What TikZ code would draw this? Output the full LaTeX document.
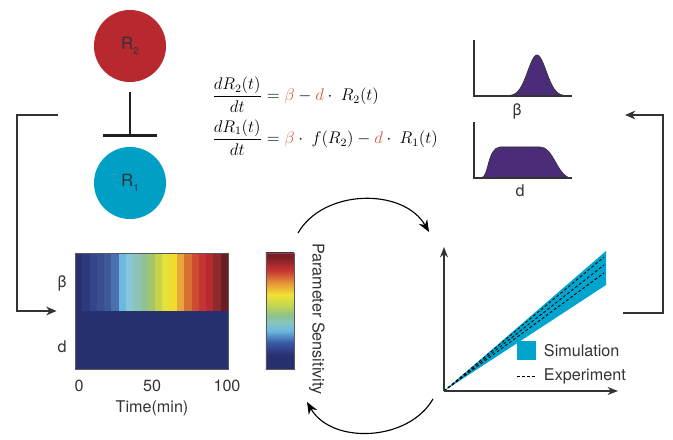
\documentclass[tikz,border=0pt]{standalone}
\usepackage{amsmath}
\usepackage{fontspec}
\setmainfont{TeX Gyre Heros}
\usetikzlibrary{positioning,shapes,arrows.meta}
\definecolor{rtwo}{HTML}{B8282F}
\definecolor{rone}{HTML}{00A0C6}
\definecolor{dpurple}{HTML}{4A2C78}
\definecolor{simblue}{HTML}{00A4CC}
\definecolor{parred}{HTML}{D05A40}
\definecolor{ink}{HTML}{333333}
\definecolor{jnavy}{HTML}{283070}
\definecolor{jblue}{HTML}{3A5AA8}
\definecolor{jlblue}{HTML}{6CB8DE}
\definecolor{jteal}{HTML}{88C4C0}
\definecolor{jgreen}{HTML}{8CC28C}
\definecolor{jygreen}{HTML}{C4D650}
\definecolor{jyellow}{HTML}{F0E234}
\definecolor{jorange}{HTML}{E8963A}
\definecolor{jred}{HTML}{C63432}
\definecolor{jdred}{HTML}{7A1E26}
\pgfdeclareverticalshading{jet}{100bp}{color(0bp)=(jnavy); color(25bp)=(jnavy); color(31bp)=(jnavy);
  color(36.5bp)=(jblue); color(41.5bp)=(jlblue); color(45bp)=(jteal); color(48bp)=(jgreen);
  color(52.5bp)=(jygreen); color(57bp)=(jyellow); color(62bp)=(jorange); color(67.5bp)=(jred);
  color(73.5bp)=(jdred); color(100bp)=(jdred)}
\tikzstyle{species} = [circle, minimum size=1.8cm, text=ink, font=\fontsize{12}{14}\selectfont]
\tikzstyle{inhibit} = [line width=1.7pt, draw=ink!60!black, -{Bar[width=1.33cm,line width=1.7pt]}, shorten <=0.25cm, shorten >=0.25cm]
\tikzstyle{connect} = [line width=0.8pt, draw=ink, -{Stealth[length=2.6mm,width=2.2mm]}]
\tikzstyle{turn} = [line width=0.8pt, draw=black, -{Stealth[length=3mm,width=2.4mm]}]
\tikzstyle{plotaxis} = [line width=0.8pt, draw=ink, -{Stealth[length=2.6mm,width=2mm]}]
\tikzstyle{distaxis} = [line width=0.8pt, draw=ink]
\tikzstyle{dist} = [fill=dpurple, draw=black!80, line width=0.5pt]
\tikzstyle{lbl} = [text=ink, font=\fontsize{11.5}{13}\selectfont]
\tikzstyle{mapbox} = [rectangle, draw=gray!70!black, line width=0.6pt, minimum height=2.9cm, inner sep=0pt]
\tikzstyle{expline} = [black, line width=0.6pt, dash pattern=on 2pt off 1.6pt]

\begin{document}
\begin{tikzpicture}[x=0.025cm, y=0.025cm]
			\useasboundingbox (0,0) rectangle (673,440);
			\node (r2) [species, fill=rtwo] at (130,394) {R\raisebox{-0.55ex}{\scriptsize 2}};
			\node (r1) [species, fill=rone] at (130,257) {R\raisebox{-0.55ex}{\scriptsize 1}};
			\draw [inhibit] (r2) -- (r1);
			\node (eqs) at (325,324) [font=\fontsize{12}{14}\selectfont] {$\begin{aligned}
				\frac{dR_2(t)}{dt} &= \textcolor{parred}{\beta} - \textcolor{parred}{d}\cdot\ R_2(t)\\[1pt]
				\frac{dR_1(t)}{dt} &= \textcolor{parred}{\beta}\cdot\ f(R_2) - \textcolor{parred}{d}\cdot\ R_1(t)
				\end{aligned}$};
			%-----------------------------------------------
			\foreach \h [count=\i from 0] in {283070,2E3A7E,34468A,3A4E90,3F5898,4A70B0,6BB8E0,88C6DA,8CC4B8,8EC292,A4C66A,C4D44C,E4E236,F2DC2C,E6A83C,D87034,CC4A30,C43434,B82A30,8C2A2E,6A1E22} {
				\definecolor{hcol}{HTML}{\h}
				\fill [hcol] ({75+\i*7.2857},129) rectangle ++(7.3,58);
			}
			\fill [jnavy] (75,71) rectangle (228,129);
			\node (heat) [mapbox, minimum width=3.825cm] at (151.5,129) {};
			\node (lbeta) [lbl] at (62,157) {β};
			\node (ld) [lbl] at (62,93) {d};
			\node (t0) [lbl] at (79,54) {0};
			\node (t50) [lbl] at (152,54) {50};
			\node (t100) [lbl] at (227,54) {100};
			\node (time) [lbl] at (152,32) {Time(min)};
			\node (cbar) [mapbox, minimum width=0.7cm, shade, shading=jet] at (280,129) {};
			\node (sens) [lbl, rotate=-90] at (317,121) {Parameter Sensitivity};
			%-----------------------------------------------
			\coordinate (orig) at (444,49);
			\fill [simblue] (orig) -- (606,189) -- (606,155) -- cycle;
			\foreach \yy in {167,175,183}
				\draw [expline] (orig) -- (604,\yy);
			\draw [plotaxis] (orig) -- (444,193);
			\draw [plotaxis] (orig) -- (618,49);
			\node (simkey) [fill=simblue, minimum size=0.475cm, inner sep=0pt] at (526.5,89) {};
			\node (simtxt) [lbl, anchor=west] at (539,89) {Simulation};
			\draw [expline] (517,64) -- (536,64);
			\node (exptxt) [lbl, anchor=west] at (539,64) {Experiment};
			%-----------------------------------------------
			\filldraw [dist] plot[domain=503:571, samples=60, smooth] (\x, {344+41*exp(-((\x-537)/13)*((\x-537)/13))}) -- cycle;
			\draw [distaxis] (474,400) -- (474,344) -- (572,344);
			\node (lb2) [lbl] at (517,329) {β};
			\filldraw [dist] (481,262) .. controls (489,262) and (487,292) .. (500,293) -- (540,293) .. controls (553,293) and (556,268) .. (569,262) -- cycle;
			\draw [distaxis] (474,318) -- (474,262) -- (572,262);
			\node (ld2) [lbl] at (520,249) {d};
			%-----------------------------------------------
			\coordinate (c1) at (298,207);
			\coordinate (c2) at (429,208);
			\coordinate (c3) at (433,41);
			\coordinate (c4) at (307,38);
			\draw [turn] (c1) to[out=60,in=120] (c2);
			\draw [turn] (c3) to[out=-120,in=-60] (c4);
			\coordinate (fbl) at (58,325);
			\coordinate (fbr) at (623,127);
			\coordinate (din) at (625,325);
			\draw [connect] (fbl) -- (17,325) |- ([xshift=-0.45cm]heat.west);
			\draw [connect] (fbr) -- (663,127) |- (din);
\end{tikzpicture}
\end{document}
